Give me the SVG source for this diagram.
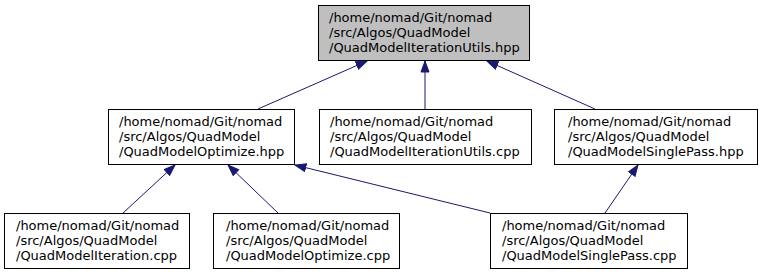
<svg xmlns="http://www.w3.org/2000/svg" width="759" height="275" viewBox="0 0 759 275">
  <style>
    .box { fill: #ffffff; stroke: #000000; stroke-width: 1; }
    .root { fill: #bfbfbf; }
    .lbl { font-family: "DejaVu Sans", sans-serif; font-size: 13px; fill: #000000; }
    .edge { fill: none; stroke: #191970; stroke-width: 1; marker-end: url(#arrow); }
  </style>
  <defs>
    <marker id="arrow" markerUnits="userSpaceOnUse" markerWidth="13" markerHeight="10" refX="11.5" refY="5" orient="auto">
      <path d="M0.5,1 L11.5,5 L0.5,9 Z" fill="#191970" stroke="#191970" stroke-width="1"/>
    </marker>
  </defs>
  <rect width="759" height="275" fill="#ffffff"/>

  <g id="connectors">
    <line class="edge" x1="258" y1="109" x2="367" y2="61"/>
    <line class="edge" x1="425" y1="109" x2="425" y2="61"/>
    <line class="edge" x1="595" y1="109" x2="487" y2="61"/>
    <line class="edge" x1="123" y1="213" x2="175" y2="165"/>
    <line class="edge" x1="278" y1="213" x2="228" y2="165"/>
    <line class="edge" x1="490" y1="213" x2="295" y2="165"/>
    <line class="edge" x1="605" y1="213" x2="638" y2="165"/>
  </g>

  <g id="node_iteration_utils_hpp">
    <rect class="box root" x="318.5" y="5.5" width="211" height="55"/>
    <text class="lbl" x="329" y="21.5">/home/nomad/Git/nomad</text>
    <text class="lbl" x="329" y="36.5">/src/Algos/QuadModel</text>
    <text class="lbl" x="329" y="51.5">/QuadModelIterationUtils.hpp</text>
  </g>

  <g id="node_optimize_hpp">
    <rect class="box" x="108.5" y="109.5" width="186" height="55"/>
    <text class="lbl" x="119" y="125.5">/home/nomad/Git/nomad</text>
    <text class="lbl" x="119" y="140.5">/src/Algos/QuadModel</text>
    <text class="lbl" x="119" y="155.5">/QuadModelOptimize.hpp</text>
  </g>

  <g id="node_iteration_utils_cpp">
    <rect class="box" x="319.5" y="109.5" width="212" height="55"/>
    <text class="lbl" x="330" y="125.5">/home/nomad/Git/nomad</text>
    <text class="lbl" x="330" y="140.5">/src/Algos/QuadModel</text>
    <text class="lbl" x="330" y="155.5">/QuadModelIterationUtils.cpp</text>
  </g>

  <g id="node_single_pass_hpp">
    <rect class="box" x="554.5" y="109.5" width="203" height="55"/>
    <text class="lbl" x="568" y="125.5">/home/nomad/Git/nomad</text>
    <text class="lbl" x="568" y="140.5">/src/Algos/QuadModel</text>
    <text class="lbl" x="568" y="155.5">/QuadModelSinglePass.hpp</text>
  </g>

  <g id="node_iteration_cpp">
    <rect class="box" x="4.5" y="213.5" width="185" height="55"/>
    <text class="lbl" x="16" y="229.5">/home/nomad/Git/nomad</text>
    <text class="lbl" x="16" y="244.5">/src/Algos/QuadModel</text>
    <text class="lbl" x="16" y="259.5">/QuadModelIteration.cpp</text>
  </g>

  <g id="node_optimize_cpp">
    <rect class="box" x="213.5" y="213.5" width="186" height="55"/>
    <text class="lbl" x="226" y="229.5">/home/nomad/Git/nomad</text>
    <text class="lbl" x="226" y="244.5">/src/Algos/QuadModel</text>
    <text class="lbl" x="226" y="259.5">/QuadModelOptimize.cpp</text>
  </g>

  <g id="node_single_pass_cpp">
    <rect class="box" x="490.5" y="213.5" width="197" height="55"/>
    <text class="lbl" x="502" y="229.5">/home/nomad/Git/nomad</text>
    <text class="lbl" x="502" y="244.5">/src/Algos/QuadModel</text>
    <text class="lbl" x="502" y="259.5">/QuadModelSinglePass.cpp</text>
  </g>
</svg>
